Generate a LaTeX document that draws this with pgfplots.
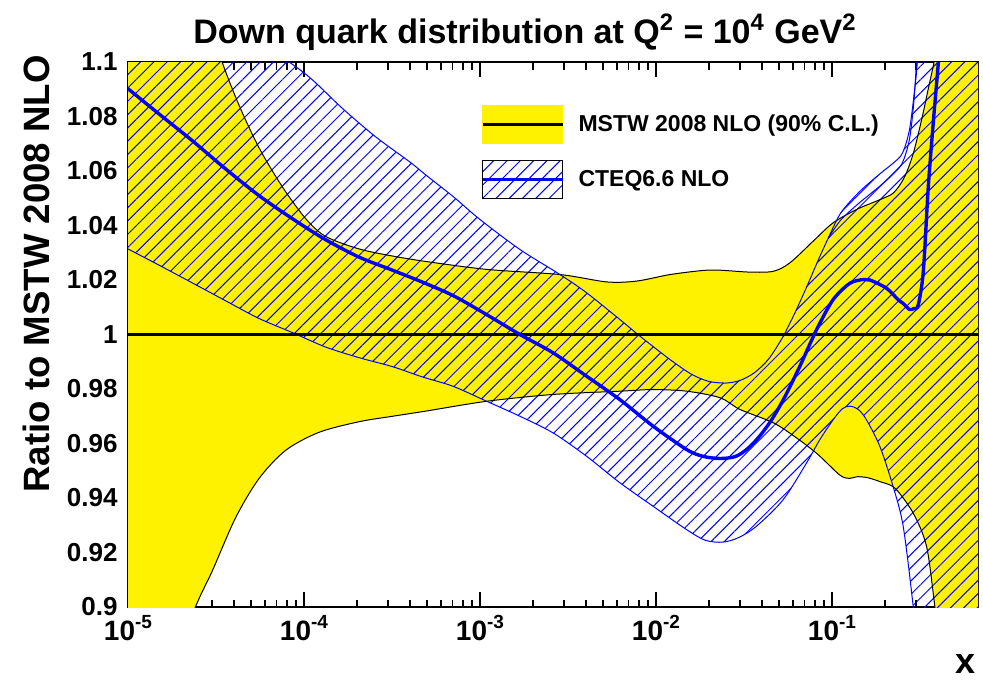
\documentclass[border=0pt]{standalone}
\usepackage{fontspec}
\setmainfont{Liberation Sans}
\usepackage{pgfplots}
\usepackage{pgfplotstable}
\pgfplotsset{compat=1.18}
\usepgfplotslibrary{fillbetween}
\usetikzlibrary{patterns.meta}

% Columns: lx = log10(x), v = ratio to MSTW 2008 NLO central value
\pgfplotstableread{
lx v
-5.00 1.200
-4.70 1.140
-4.55 1.118
-4.465 1.100
-4.37 1.0843
-4.256 1.0686
-4.123 1.0542
-3.99 1.0425
-3.877 1.0360
-3.687 1.0314
-3.497 1.0288
-3.307 1.0268
-2.962 1.0239
-2.545 1.0220
-2.28 1.0193
-2.11 1.0196
-1.92 1.0220
-1.733 1.0235
-1.636 1.0236
-1.466 1.0229
-1.333 1.0232
-1.239 1.0263
-1.106 1.0343
-0.993 1.0410
-0.86 1.0459
-0.727 1.0495
-0.65 1.0520
-0.59 1.0575
-0.54 1.0660
-0.49 1.0790
-0.45 1.0910
-0.42 1.1000
-0.38 1.1150
-0.17 1.2000
}\mstwup

\pgfplotstableread{
lx v
-5.00 0.830
-4.80 0.870
-4.617 0.900
-4.522 0.9131
-4.389 0.9327
-4.256 0.9471
-4.104 0.9575
-3.915 0.9641
-3.687 0.9680
-3.497 0.9700
-3.307 0.9719
-2.962 0.9755
-2.585 0.9780
-2.205 0.9792
-2.017 0.9798
-1.826 0.9792
-1.636 0.9768
-1.523 0.9725
-1.333 0.9676
-1.20 0.9620
-1.08 0.9560
-0.955 0.9484
-0.90 0.9472
-0.86 0.9478
-0.80 0.9475
-0.727 0.9460
-0.642 0.9436
-0.538 0.9344
-0.462 0.9221
-0.415 0.9000
-0.38 0.8830
-0.17 0.8000
}\mstwlo

\pgfplotstableread{
lx v
-5.00 1.130
-4.50 1.118
-4.085 1.1000
-3.953 1.0935
-3.782 1.0830
-3.592 1.0725
-3.40 1.0634
-3.307 1.0585
-3.15 1.0505
-3.00 1.0422
-2.773 1.0312
-2.545 1.0220
-2.394 1.0153
-2.205 1.0055
-2.091 0.9994
-1.92 0.9908
-1.80 0.9855
-1.70 0.9828
-1.60 0.9822
-1.52 0.9832
-1.44 0.9860
-1.36 0.9910
-1.28 0.9990
-1.21 1.0080
-1.14 1.0180
-1.08 1.0270
-1.02 1.0355
-0.95 1.0446
-0.845 1.0523
-0.727 1.0590
-0.65 1.0630
-0.60 1.0665
-0.56 1.0750
-0.53 1.0900
-0.515 1.1000
-0.49 1.1250
-0.17 1.3000
}\ctequp

\pgfplotstableread{
lx v
-1.02 1.0355
-0.95 1.0420
-0.85 1.0480
-0.727 1.0545
-0.65 1.0590
-0.60 1.0630
-0.56 1.0715
-0.535 1.0850
-0.52 1.1000
-0.50 1.1250
}\ctequpin

\pgfplotstableread{
lx v
-5.00 1.0314
-4.825 1.0255
-4.636 1.0190
-4.446 1.0124
-4.256 1.0059
-4.066 1.0007
-3.877 0.9954
-3.687 0.9915
-3.497 0.9882
-3.33 0.9845
-3.153 0.9810
-2.962 0.9755
-2.773 0.9700
-2.585 0.9639
-2.394 0.9553
-2.205 0.9456
-2.017 0.9370
-1.826 0.9284
-1.72 0.9245
-1.62 0.9238
-1.53 0.9255
-1.428 0.9297
-1.277 0.9394
-1.144 0.9529
-1.068 0.9615
-0.99 0.9690
-0.94 0.9728
-0.898 0.9737
-0.85 0.9725
-0.803 0.9686
-0.727 0.9588
-0.652 0.9441
-0.595 0.9295
-0.538 0.9000
-0.50 0.8750
-0.17 0.7000
}\cteqlo

\pgfplotstableread{
lx v
-5.00 1.0902
-4.825 1.0810
-4.636 1.0712
-4.446 1.0608
-4.256 1.0510
-4.066 1.0425
-3.877 1.0348
-3.687 1.0284
-3.497 1.0236
-3.33 1.0193
-3.153 1.0143
-2.962 1.0073
-2.773 1.0000
-2.585 0.9933
-2.394 0.9847
-2.205 0.9761
-2.017 0.9664
-1.826 0.9578
-1.733 0.9553
-1.636 0.9545
-1.55 0.9552
-1.485 0.9578
-1.42 0.9620
-1.35 0.9680
-1.276 0.9761
-1.182 0.9884
-1.087 1.0018
-0.993 1.0128
-0.898 1.0188
-0.82 1.0202
-0.784 1.0200
-0.69 1.0170
-0.62 1.0125
-0.595 1.0114
-0.56 1.0092
-0.535 1.0095
-0.51 1.0108
-0.481 1.0230
-0.453 1.0537
-0.424 1.0780
-0.396 1.0995
-0.38 1.1150
}\cteqcen

\tikzset{cteqhatch/.style={pattern={Lines[angle=45,distance=4.7pt,line width=0.5pt]},pattern color=blue}}
\newcommand{\decade}[1]{10\raisebox{0.42em}{\fontsize{9.5}{10}\selectfont#1}}

\begin{document}
\begin{tikzpicture}
\begin{axis}[
  name=ax,
  scale only axis, width=425pt, height=272.5pt,
  xmode=log, xmin=1e-5, xmax=0.676, ymin=0.9, ymax=1.1,
  axis line style={line width=0.8pt},
  tick align=inside, tick pos=both,
  xticklabel pos=lower, yticklabel pos=left,
  every tick/.style={black,line width=0.6pt},
  xtick={1e-5,1e-4,1e-3,1e-2,1e-1},
  xticklabels={\decade{-5},\decade{-4},\decade{-3},\decade{-2},\decade{-1}},
  minor xtick={2e-5,3e-5,4e-5,5e-5,6e-5,7e-5,8e-5,9e-5,
               2e-4,3e-4,4e-4,5e-4,6e-4,7e-4,8e-4,9e-4,
               2e-3,3e-3,4e-3,5e-3,6e-3,7e-3,8e-3,9e-3,
               2e-2,3e-2,4e-2,5e-2,6e-2,7e-2,8e-2,9e-2,
               0.2,0.3,0.4,0.5,0.6},
  ytick={0.9,0.92,0.94,0.96,0.98,1,1.02,1.04,1.06,1.08,1.1},
  yticklabels={0.9,0.92,0.94,0.96,0.98,1,1.02,1.04,1.06,1.08,1.1},
  minor y tick num=3,
  xtick style={/pgfplots/major tick length=7.5pt,/pgfplots/minor tick length=3.75pt},
  ytick style={/pgfplots/major tick length=12.5pt,/pgfplots/minor tick length=6.5pt},
  yticklabel style={inner sep=0pt,xshift=-5pt,font=\bfseries\fontsize{13}{15}\selectfont},
  xticklabel style={inner sep=0pt,yshift=-4pt,font=\bfseries\fontsize{14}{16}\selectfont},
  title={Down quark distribution at Q\textsuperscript{2} = 10\textsuperscript{4} GeV\textsuperscript{2}},
  title style={at={(axis description cs:0.467,1)},anchor=base,yshift=3.5pt,
    font=\bfseries\fontsize{17}{20}\selectfont},
  ylabel={Ratio to MSTW 2008 NLO},
  every axis y label/.style={at={(axis description cs:-0.0918,0.611)},rotate=90,anchor=base,
    font=\bfseries\fontsize{18.3}{21}\selectfont},
  xlabel={x},
  every axis x label/.style={at={(axis description cs:0.985,0)},anchor=base,yshift=-33pt,
    font=\bfseries\fontsize{18}{21}\selectfont},
  legend style={draw=none,fill=none,at={(axis description cs:0.415,0.921)},anchor=north west,
    inner sep=0pt,row sep=8pt,column sep=7pt,
    nodes={inner sep=0pt,font=\bfseries\fontsize{11.5}{13}\selectfont}},
  legend cell align=left,
  table/x expr={10^(\thisrow{lx})}, table/y=v,
]
% band edges used for the fills
\addplot[name path=mu, draw=none, smooth, forget plot] table {\mstwup};
\addplot[name path=ml, draw=none, smooth, forget plot] table {\mstwlo};
\addplot[name path=cu, draw=none, smooth, forget plot] table {\ctequp};
\addplot[name path=cl, draw=none, smooth, forget plot] table {\cteqlo};

% MSTW 2008 NLO 90% C.L. band
\addplot[fill=yellow, draw=none, forget plot] fill between[of=mu and ml];
\addplot[black, line width=0.5pt, smooth, forget plot] table {\mstwup};
\addplot[black, line width=0.5pt, smooth, forget plot] table {\mstwlo};

% CTEQ6.6 NLO band, hatched
\addplot[cteqhatch, draw=none, forget plot] fill between[of=cu and cl];
\addplot[blue, line width=0.5pt, smooth, forget plot] table {\ctequp};
\addplot[blue, line width=0.5pt, smooth, forget plot] table {\ctequpin};
\addplot[blue, line width=0.5pt, smooth, forget plot] table {\cteqlo};

% central values
\addplot[black, line width=1.5pt, forget plot] coordinates {(1e-5,1) (0.676,1)};
\addplot[blue, line width=1.7pt, smooth, forget plot] table {\cteqcen};

\addlegendimage{legend image code/.code={
  \fill[yellow] (0pt,-9.5pt) rectangle (40pt,9.5pt);
  \draw[black,line width=1.5pt] (0pt,0pt) -- (40pt,0pt);}}
\addlegendentry{MSTW 2008 NLO (90\% C.L.)}
\addlegendimage{legend image code/.code={
  \fill[cteqhatch] (0pt,-9.5pt) rectangle (40pt,9.5pt);
  \draw[blue,line width=1.7pt] (0pt,0pt) -- (40pt,0pt);}}
\addlegendentry{CTEQ6.6 NLO}
\end{axis}
\path[use as bounding box] ([xshift=-64pt,yshift=-37pt]ax.south west) rectangle ([xshift=2.5pt,yshift=31pt]ax.north east);
\end{tikzpicture}
\end{document}
